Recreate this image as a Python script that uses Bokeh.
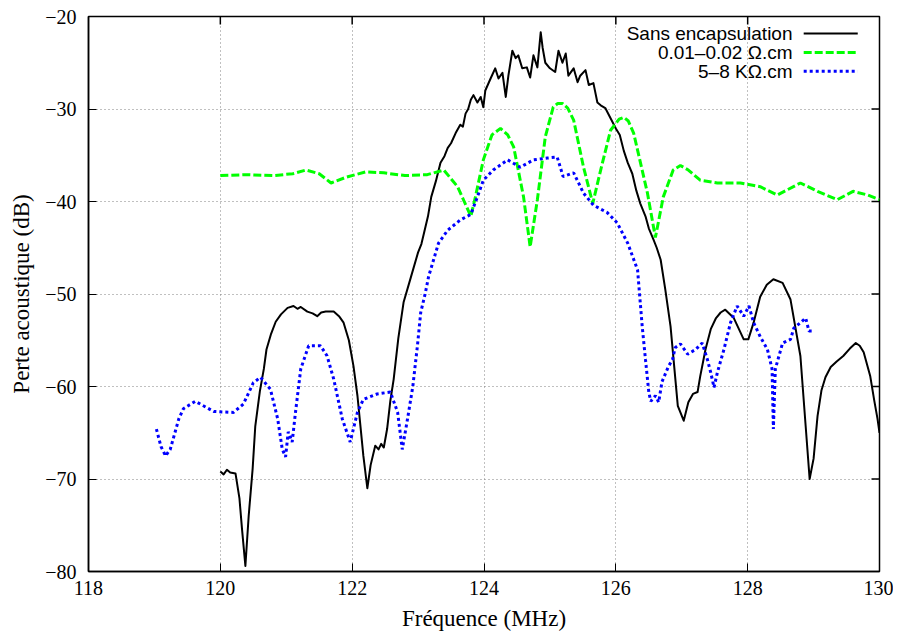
from bokeh.plotting import figure
from bokeh.models import FixedTicker, CustomJSTickFormatter, Range1d, Label
from bokeh.embed import file_html
from bokeh.resources import INLINE

# ---- data ----
freq_a = [120.00, 120.05, 120.10, 120.15, 120.23, 120.29, 120.33, 120.38, 120.43, 120.49,
          120.53, 120.60, 120.66, 120.70, 120.77, 120.84, 120.92, 121.02, 121.11, 121.17,
          121.22, 121.32, 121.40, 121.47, 121.53, 121.60, 121.72, 121.80, 121.87, 121.95,
          122.02, 122.08, 122.13, 122.17, 122.23, 122.28, 122.35, 122.40, 122.44, 122.48,
          122.53, 122.58, 122.63, 122.70, 122.78, 122.89, 123.00, 123.05, 123.09, 123.15,
          123.20, 123.27, 123.34, 123.40, 123.45, 123.50, 123.57, 123.64, 123.68, 123.72,
          123.76, 123.80, 123.84, 123.90, 123.95, 123.99, 124.02, 124.10, 124.17, 124.22,
          124.28, 124.33, 124.37, 124.43, 124.48, 124.52, 124.58, 124.65, 124.70, 124.75,
          124.81, 124.86, 124.89, 124.93, 125.00, 125.08, 125.13, 125.19, 125.24, 125.28,
          125.36, 125.42, 125.46, 125.54, 125.59, 125.66, 125.72, 125.77, 125.84, 125.92,
          126.00, 126.06, 126.12, 126.18, 126.25, 126.31, 126.37, 126.45, 126.50, 126.57,
          126.62, 126.68, 126.75, 126.83, 126.94, 127.03, 127.10, 127.17, 127.24, 127.28,
          127.36, 127.44, 127.52, 127.59, 127.66, 127.79, 127.94, 128.01, 128.09, 128.19,
          128.29, 128.39, 128.53, 128.65, 128.80, 128.88, 128.94, 129.00, 129.06, 129.12,
          129.18, 129.26, 129.35, 129.45, 129.55, 129.64, 129.70, 129.76, 129.86, 129.92,
          129.97, 130.00]
loss_a = [-69.2, -69.5, -69.0, -69.3, -69.4, -72.1, -75.5, -79.4, -74.0, -68.9,
          -64.3, -60.5, -58.1, -56.0, -54.3, -53.0, -52.2, -51.5, -51.3, -51.6,
          -51.4, -51.9, -52.1, -52.4, -52.0, -51.9, -51.9, -52.4, -53.1, -55.0,
          -57.8, -61.0, -64.6, -67.5, -71.0, -68.5, -66.4, -66.8, -66.2, -66.6,
          -64.6, -61.5, -59.2, -54.8, -50.9, -48.2, -45.5, -44.6, -43.4, -41.6,
          -39.5, -37.8, -35.8, -35.1, -34.2, -33.7, -32.6, -31.7, -31.9, -30.5,
          -30.0, -29.0, -28.5, -29.3, -28.7, -29.8, -28.0, -26.7, -25.6, -26.7,
          -26.1, -28.7, -26.4, -23.7, -24.5, -24.2, -25.6, -25.5, -26.6, -24.2,
          -25.5, -21.7, -23.4, -25.0, -25.6, -26.0, -23.7, -25.0, -24.0, -26.4,
          -25.6, -27.1, -26.4, -25.8, -27.4, -27.2, -29.3, -29.6, -29.9, -31.0,
          -32.1, -32.8, -34.5, -35.8, -37.0, -38.8, -40.2, -41.6, -42.9, -44.1,
          -45.0, -46.3, -49.5, -53.5, -62.1, -63.7, -61.7, -60.8, -60.6, -58.9,
          -56.0, -53.8, -52.6, -52.0, -51.7, -52.6, -54.9, -54.9, -53.1, -50.3,
          -49.0, -48.4, -48.8, -50.6, -56.7, -64.3, -70.0, -67.8, -63.2, -60.4,
          -59.0, -57.9, -57.3, -56.7, -55.9, -55.3, -55.6, -56.3, -58.9, -61.5,
          -63.5, -65.0]

freq_b = [120.00, 120.40, 120.80, 121.10, 121.30, 121.50, 121.68, 121.90, 122.20, 122.48,
          122.80, 123.14, 123.39, 123.60, 123.70, 123.80, 123.87, 123.99, 124.12, 124.25,
          124.36, 124.45, 124.60, 124.70, 124.81, 124.93, 125.05, 125.12, 125.19, 125.27,
          125.36, 125.51, 125.65, 125.77, 125.92, 126.05, 126.12, 126.19, 126.27, 126.48,
          126.60, 126.72, 126.87, 126.98, 127.10, 127.28, 127.54, 127.89, 128.19, 128.45,
          128.80, 129.06, 129.36, 129.60, 129.82, 130.00]
loss_b = [-37.2, -37.1, -37.2, -37.0, -36.6, -37.0, -38.0, -37.4, -36.8, -36.9,
          -37.2, -37.1, -36.6, -38.4, -40.0, -41.6, -39.5, -35.5, -32.8, -32.1,
          -32.8, -34.1, -39.5, -44.9, -39.8, -33.0, -29.8, -29.4, -29.4, -29.9,
          -31.2, -36.3, -40.2, -36.6, -32.3, -31.1, -30.9, -31.3, -32.6, -39.1,
          -43.9, -39.5, -36.6, -36.1, -36.6, -37.7, -38.0, -38.0, -38.4, -39.3,
          -38.0, -38.9, -39.8, -38.9, -39.3, -39.8]

freq_c = [119.03, 119.10, 119.17, 119.24, 119.37, 119.44, 119.62, 119.90, 120.20, 120.35,
          120.50, 120.61, 120.76, 120.87, 120.94, 120.99, 121.03, 121.09, 121.14, 121.22,
          121.34, 121.52, 121.62, 121.72, 121.85, 121.97, 122.08, 122.17, 122.38, 122.58,
          122.69, 122.76, 122.84, 122.92, 122.99, 123.04, 123.11, 123.16, 123.31, 123.45,
          123.64, 123.80, 123.90, 123.99, 124.14, 124.36, 124.55, 124.75, 124.96, 125.11,
          125.20, 125.36, 125.51, 125.66, 125.87, 126.02, 126.18, 126.33, 126.40, 126.45,
          126.50, 126.53, 126.60, 126.65, 126.70, 126.80, 126.86, 126.90, 126.98, 127.09,
          127.21, 127.31, 127.39, 127.44, 127.49, 127.54, 127.64, 127.74, 127.84, 127.94,
          128.02, 128.09, 128.19, 128.30, 128.37, 128.39, 128.42, 128.53, 128.65, 128.70,
          128.80, 128.88, 128.93, 129.00]
loss_c = [-64.6, -66.5, -67.5, -66.8, -63.5, -62.4, -61.6, -62.7, -62.8, -61.9,
          -59.6, -59.0, -60.3, -63.5, -66.8, -67.6, -64.9, -66.0, -62.8, -58.1,
          -55.6, -55.6, -56.7, -59.2, -63.5, -66.0, -62.8, -61.4, -60.8, -60.6,
          -62.8, -66.8, -63.5, -60.0, -55.6, -52.0, -49.9, -48.1, -44.5, -43.1,
          -42.0, -41.4, -39.5, -37.7, -36.6, -35.5, -36.3, -35.5, -35.3, -35.2,
          -37.3, -36.9, -39.1, -40.4, -41.2, -42.3, -44.5, -47.4, -53.5, -57.1,
          -60.6, -61.6, -61.0, -61.7, -59.5, -57.8, -57.1, -55.8, -55.4, -56.5,
          -56.0, -55.3, -57.1, -58.5, -60.1, -58.5, -56.0, -53.1, -51.3, -52.4,
          -51.3, -53.1, -54.6, -56.0, -58.1, -64.6, -58.1, -55.3, -54.9, -53.7,
          -53.1, -52.6, -54.0, -54.0]

series_names = ["Sans encapsulation", "0.01\u20130.02 \u03a9.cm", "5\u20138 K\u03a9.cm"]
x_ticks = [118, 120, 122, 124, 126, 128, 130]
y_ticks = [-80, -70, -60, -50, -40, -30, -20]
x_min, x_max = 118, 130
y_min, y_max = -80, -20

SERIF = "Liberation Serif"
SANS = "Liberation Sans"

W, H = 893, 633
BL, BR, BT, BB = 88, 14, 16, 60
FRAME_W, FRAME_H = W - BL - BR, H - BT - BB

p = figure(width=W, height=H, output_backend="svg", toolbar_location=None,
           x_range=Range1d(x_min, x_max), y_range=Range1d(y_min, y_max),
           min_border_left=BL, min_border_right=BR, min_border_top=BT, min_border_bottom=BB)
p.background_fill_color = "white"
p.border_fill_color = "white"
p.outline_line_color = "black"
p.outline_line_width = 1.5

minus_fmt = CustomJSTickFormatter(code="return String(tick).replace('-', '\u2212');")

for ax in (p.xaxis[0], p.yaxis[0]):
    ax.major_label_text_font = SERIF
    ax.major_label_text_font_size = "20px"
    ax.major_label_text_color = "black"
    ax.axis_label_text_font = SERIF
    ax.axis_label_text_font_size = "23px"
    ax.axis_label_text_font_style = "normal"
    ax.axis_label_text_color = "black"
    ax.major_tick_in = 8
    ax.major_tick_out = 0
    ax.minor_tick_in = 0
    ax.minor_tick_out = 0
    ax.axis_line_width = 1.5
    ax.axis_line_color = "black"
    ax.major_tick_line_color = "black"

p.xaxis[0].ticker = FixedTicker(ticks=x_ticks)
p.yaxis[0].ticker = FixedTicker(ticks=y_ticks)
p.yaxis[0].formatter = minus_fmt
p.xaxis[0].axis_label = "Fréquence (MHz)"
p.yaxis[0].axis_label = "Perte acoustique (dB)"
p.xaxis[0].major_label_standoff = 9
p.xaxis[0].axis_label_standoff = 8
p.yaxis[0].major_label_standoff = 12
p.yaxis[0].axis_label_standoff = 8

# mirrored inward ticks on the top and right borders (gnuplot style)
tick_px = 8
dy = tick_px * (y_max - y_min) / FRAME_H
dx = tick_px * (x_max - x_min) / FRAME_W
p.segment(x0=x_ticks[1:-1], y0=[y_max] * (len(x_ticks) - 2), x1=x_ticks[1:-1],
          y1=[y_max - dy] * (len(x_ticks) - 2), line_color="black", line_width=1.5)
p.segment(x0=[x_max] * (len(y_ticks) - 2), y0=y_ticks[1:-1], x1=[x_max - dx] * (len(y_ticks) - 2),
          y1=y_ticks[1:-1], line_color="black", line_width=1.5)

for g in (p.xgrid[0], p.ygrid[0]):
    g.grid_line_color = "#808080"
    g.grid_line_dash = "1 3"
    g.grid_line_width = 1
p.xgrid[0].ticker = FixedTicker(ticks=x_ticks[1:-1])
p.ygrid[0].ticker = FixedTicker(ticks=y_ticks[1:-1])

colors = ["black", "#00ff00", "#0000ff"]
dashes = ["solid", "8 3", "3 3"]
widths = [2, 3, 3]

p.line(freq_a, loss_a, line_color=colors[0], line_width=widths[0], line_dash=dashes[0], line_join="round")
p.line(freq_b, loss_b, line_color=colors[1], line_width=widths[1], line_dash=dashes[1])
p.line(freq_c, loss_c, line_color=colors[2], line_width=widths[2], line_dash=dashes[2])

# gnuplot-style key (text right-aligned, sample on the right)
key_text_x = 128.68
key_line_x = [128.85, 129.67]
key_rows_y = [-21.83, -23.88, -25.92]
for i in range(3):
    p.line(key_line_x, [key_rows_y[i]] * 2, line_color=colors[i], line_width=widths[i],
           line_dash=dashes[i])
    p.add_layout(Label(x=key_text_x, y=key_rows_y[i], text=series_names[i], text_align="right",
                       text_baseline="middle", text_font=SANS, text_font_size="19px",
                       text_color="black"))

open("out.html", "w").write(file_html(p, INLINE))
